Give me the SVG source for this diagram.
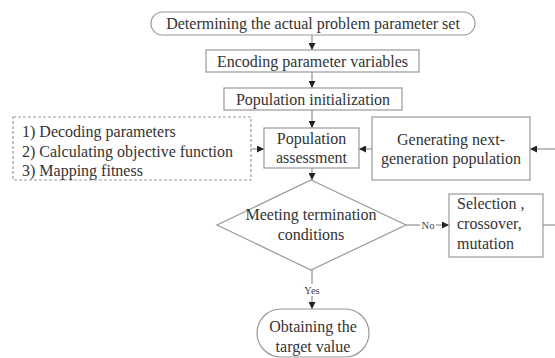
<svg xmlns="http://www.w3.org/2000/svg" width="555" height="358" viewBox="0 0 555 358">
  <defs>
    <marker id="arr" viewBox="0 0 8 8" refX="8" refY="4" markerWidth="7" markerHeight="7" markerUnits="userSpaceOnUse" orient="auto">
      <path d="M0,0 L8,4 L0,8 z" fill="#222"/>
    </marker>
    <style>
      .box { fill: #fff; stroke: #999; stroke-width: 1.2; }
      .dash { fill: none; stroke: #999; stroke-width: 1.2; stroke-dasharray: 3 2; }
      text { font-family: 'Liberation Serif', 'DejaVu Serif', serif; }
      .t { font-size: 16px; fill: #333; }
      .c { text-anchor: middle; }
      .s { font-size: 10.5px; fill: #444; text-anchor: middle; }
      .ln { fill: none; stroke: #888; stroke-width: 1.1; }
      .ar { fill: none; stroke: #888; stroke-width: 1.1; marker-end: url(#arr); }
    </style>
  </defs>
  <rect width="555" height="358" fill="#fff"/>

  <g id="connectors">
    <line class="ar" x1="312" y1="35" x2="312" y2="50"/>
    <line class="ar" x1="312" y1="72" x2="312" y2="88"/>
    <line class="ar" x1="312" y1="110" x2="312" y2="128"/>
    <line class="ar" x1="251" y1="149" x2="264" y2="149"/>
    <line class="ar" x1="372" y1="149" x2="359" y2="149"/>
    <line class="ar" x1="555" y1="149" x2="530" y2="149"/>
    <line class="ar" x1="312" y1="168" x2="312" y2="180"/>
    <line class="ln" x1="406" y1="225" x2="420" y2="225"/>
    <line class="ar" x1="436" y1="225" x2="449" y2="225"/>
    <text class="s" x="428" y="228.5">No</text>
    <line class="ln" x1="543" y1="225" x2="555" y2="225"/>
    <line class="ln" x1="312" y1="270" x2="312" y2="284"/>
    <line class="ar" x1="312" y1="296" x2="312" y2="309"/>
    <text class="s" x="312" y="294">Yes</text>
  </g>

  <g id="start">
    <rect class="box" x="151" y="12" width="324" height="23" rx="11.5"/>
    <text class="t c" x="313" y="28.5">Determining the actual problem parameter set</text>
  </g>

  <g id="encoding">
    <rect class="box" x="206" y="50" width="213" height="22"/>
    <text class="t c" x="312.5" y="66.5">Encoding parameter variables</text>
  </g>

  <g id="init">
    <rect class="box" x="224" y="88" width="178" height="22"/>
    <text class="t c" x="313" y="104.5">Population initialization</text>
  </g>

  <g id="notes">
    <rect class="dash" x="13" y="117" width="238" height="63"/>
    <text class="t" x="22" y="137">1) Decoding parameters</text>
    <text class="t" x="22" y="157">2) Calculating objective function</text>
    <text class="t" x="22" y="176">3) Mapping fitness</text>
  </g>

  <g id="assessment">
    <rect class="box" x="264" y="128" width="95" height="40"/>
    <text class="t c" x="311.5" y="144">Population</text>
    <text class="t c" x="311.5" y="163">assessment</text>
  </g>

  <g id="next-generation">
    <rect class="box" x="372" y="117" width="158" height="63"/>
    <text class="t c" x="451" y="145">Generating next-</text>
    <text class="t c" x="451" y="164">generation population</text>
  </g>

  <g id="termination">
    <polygon class="box" points="311,180 406,225 311,270 217,225"/>
    <text class="t c" x="311" y="220">Meeting termination</text>
    <text class="t c" x="311" y="240">conditions</text>
  </g>

  <g id="operators">
    <rect class="box" x="449" y="194" width="94" height="63"/>
    <text class="t" x="457" y="209">Selection ,</text>
    <text class="t" x="457" y="229">crossover,</text>
    <text class="t" x="457" y="249">mutation</text>
  </g>

  <g id="result">
    <rect class="box" x="257" y="309" width="112" height="48" rx="24"/>
    <text class="t c" x="313" y="332">Obtaining the</text>
    <text class="t c" x="313" y="352">target value</text>
  </g>
</svg>
